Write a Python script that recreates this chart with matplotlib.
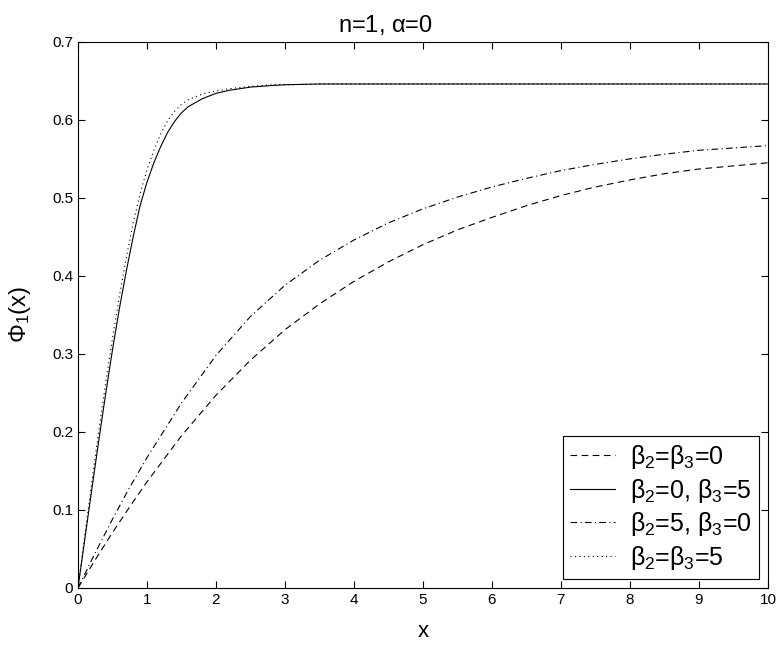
import numpy as np
import matplotlib.pyplot as plt

plt.rcParams['font.family'] = ['Liberation Sans', 'DejaVu Sans']
plt.rcParams['mathtext.fontset'] = 'custom'
plt.rcParams['mathtext.rm'] = 'Liberation Sans'
plt.rcParams['mathtext.it'] = 'Liberation Sans'

# values
x_fast = [0, 0.1, 0.2, 0.3, 0.4, 0.5, 0.6, 0.7, 0.8, 0.9, 1.0, 1.1, 1.2, 1.3,
          1.4, 1.5, 1.6, 1.8, 2.0, 2.2, 2.5, 2.8, 3.0, 3.5, 4.0, 5.0, 7.0, 10.0]
phi_b0_b5 = [0, 0.063, 0.126, 0.188, 0.248, 0.305, 0.358, 0.406, 0.450, 0.490,
             0.520, 0.545, 0.566, 0.584, 0.598, 0.609, 0.617, 0.627, 0.634, 0.638,
             0.642, 0.644, 0.645, 0.646, 0.646, 0.646, 0.646, 0.646]
phi_b5_b5 = [0, 0.068, 0.135, 0.200, 0.262, 0.320, 0.374, 0.423, 0.468, 0.505,
             0.536, 0.561, 0.582, 0.599, 0.611, 0.620, 0.626, 0.633, 0.637, 0.640,
             0.643, 0.645, 0.645, 0.646, 0.646, 0.646, 0.646, 0.646]

x_slow = [0, 0.25, 0.5, 0.75, 1.0, 1.5, 2.0, 2.5, 3.0, 3.5, 4.0, 4.5, 5.0,
          5.5, 6.0, 6.5, 7.0, 7.5, 8.0, 8.5, 9.0, 9.5, 10.0]
phi_b0_b0 = [0, 0.036, 0.071, 0.104, 0.136, 0.195, 0.247, 0.292, 0.331, 0.364,
             0.393, 0.418, 0.440, 0.459, 0.475, 0.490, 0.503, 0.514, 0.523, 0.531,
             0.537, 0.541, 0.545]
phi_b5_b0 = [0, 0.045, 0.088, 0.129, 0.167, 0.237, 0.298, 0.348, 0.388, 0.420,
             0.446, 0.468, 0.486, 0.501, 0.514, 0.525, 0.535, 0.543, 0.550, 0.556,
             0.561, 0.564, 0.567]

labels = [r'$\beta_2$=$\beta_3$=0', r'$\beta_2$=0, $\beta_3$=5',
          r'$\beta_2$=5, $\beta_3$=0', r'$\beta_2$=$\beta_3$=5']

fig = plt.figure(figsize=(7.82, 6.54), dpi=100)
ax = fig.add_axes([0.0997, 0.101, 0.8823, 0.835])

ax.plot(x_slow, phi_b0_b0, 'k--', lw=0.8, dashes=(6, 4), label=labels[0])
ax.plot(x_fast, phi_b0_b5, 'k-', lw=0.8, label=labels[1])
ax.plot(x_slow, phi_b5_b0, 'k-.', lw=0.8, dashes=(6, 3, 1, 3), label=labels[2])
ax.plot(x_fast, phi_b5_b5, 'k:', lw=0.8, dashes=(1, 3), label=labels[3])

ax.set_xlim(0, 10)
ax.set_ylim(0, 0.7)
ax.set_xticks(range(0, 11))
ax.set_yticks(np.arange(0, 0.71, 0.1))
ax.set_yticklabels(['0', '0.1', '0.2', '0.3', '0.4', '0.5', '0.6', '0.7'])
ax.tick_params(direction='in', top=True, right=True, labelsize=11, length=5, width=0.8)
for s in ax.spines.values():
    s.set_linewidth(0.8)

ax.set_title(r'n=1, $\alpha$=0', fontsize=17, pad=7, x=0.446)
ax.set_xlabel('x', fontsize=16, labelpad=10)
ax.set_ylabel(r'$\Phi_1$(x)', fontsize=17, labelpad=14)

leg = ax.legend(loc='lower right', fontsize=18, frameon=True, fancybox=False,
                edgecolor='k', framealpha=1, borderaxespad=0.35, handlelength=1.8,
                handletextpad=0.6, labelspacing=0.22, borderpad=0.3)
leg.get_frame().set_linewidth(0.8)

fig.savefig('out.png', dpi=100)
